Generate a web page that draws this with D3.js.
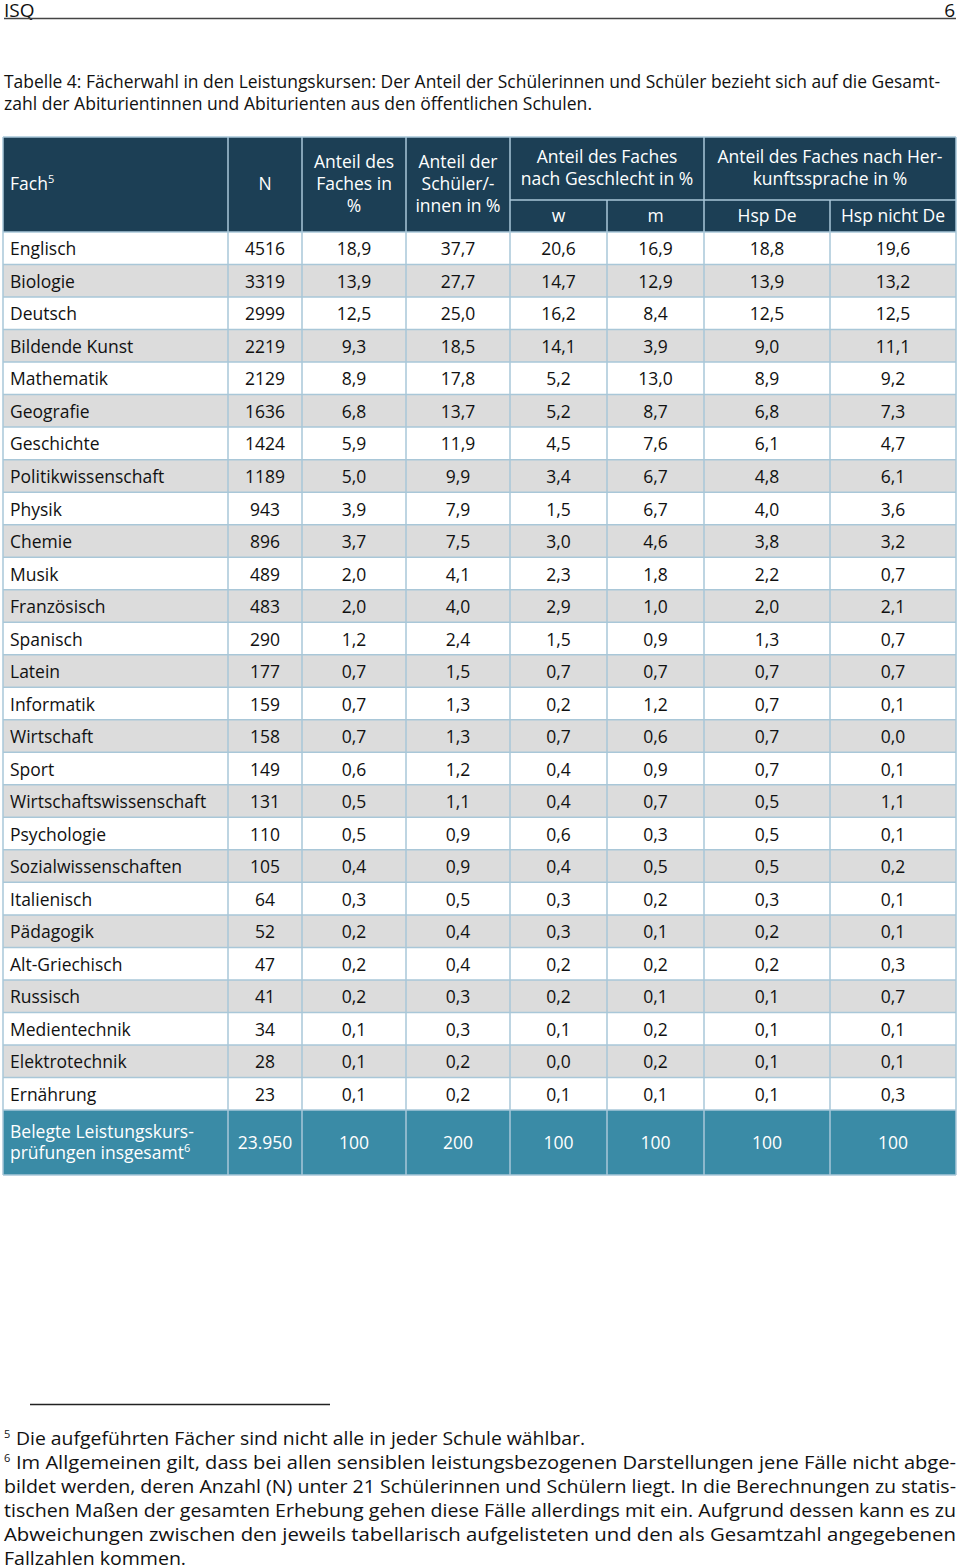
<!DOCTYPE html>
<html><head><meta charset="utf-8">
<script src="https://cdn.jsdelivr.net/npm/d3@7"></script>
<style>html,body{margin:0;padding:0;background:#fff;} svg{display:block;}</style>
</head><body>
<script>
const subjects = ["Englisch","Biologie","Deutsch","Bildende Kunst","Mathematik","Geografie","Geschichte","Politikwissenschaft","Physik","Chemie","Musik","Französisch","Spanisch","Latein","Informatik","Wirtschaft","Sport","Wirtschaftswissenschaft","Psychologie","Sozialwissenschaften","Italienisch","Pädagogik","Alt-Griechisch","Russisch","Medientechnik","Elektrotechnik","Ernährung"];
const nValues = [4516,3319,2999,2219,2129,1636,1424,1189,943,896,489,483,290,177,159,158,149,131,110,105,64,52,47,41,34,28,23];
const anteilFach = ["18,9","13,9","12,5","9,3","8,9","6,8","5,9","5,0","3,9","3,7","2,0","2,0","1,2","0,7","0,7","0,7","0,6","0,5","0,5","0,4","0,3","0,2","0,2","0,2","0,1","0,1","0,1"];
const anteilSchueler = ["37,7","27,7","25,0","18,5","17,8","13,7","11,9","9,9","7,9","7,5","4,1","4,0","2,4","1,5","1,3","1,3","1,2","1,1","0,9","0,9","0,5","0,4","0,4","0,3","0,3","0,2","0,2"];
const weiblich = ["20,6","14,7","16,2","14,1","5,2","5,2","4,5","3,4","1,5","3,0","2,3","2,9","1,5","0,7","0,2","0,7","0,4","0,4","0,6","0,4","0,3","0,3","0,2","0,2","0,1","0,0","0,1"];
const maennlich = ["16,9","12,9","8,4","3,9","13,0","8,7","7,6","6,7","6,7","4,6","1,8","1,0","0,9","0,7","1,2","0,6","0,9","0,7","0,3","0,5","0,2","0,1","0,2","0,1","0,2","0,2","0,1"];
const hspDe = ["18,8","13,9","12,5","9,0","8,9","6,8","6,1","4,8","4,0","3,8","2,2","2,0","1,3","0,7","0,7","0,7","0,7","0,5","0,5","0,5","0,3","0,2","0,2","0,1","0,1","0,1","0,1"];
const hspNichtDe = ["19,6","13,2","12,5","11,1","9,2","7,3","4,7","6,1","3,6","3,2","0,7","2,1","0,7","0,7","0,1","0,0","0,1","1,1","0,1","0,2","0,1","0,1","0,3","0,7","0,1","0,1","0,3"];
const totalLabel = ["Belegte Leistungskurs-","prüfungen insgesamt"];
const totalValues = ["23.950","100","200","100","100","100","100"];

const W = 960, H = 1567;
const FONT = "'Open Sans', 'DejaVu Sans', sans-serif";
const NAVY = "#1c3f55", TEAL = "#3a8ba6", GRID = "#a9c7d8", STRIPE = "#dcdcdc";

const svg = d3.select("body").append("svg").attr("width", W).attr("height", H)
  .style("font-family", FONT);

// page header
svg.append("text").attr("x", 4).attr("y", 17).attr("font-size", 19).attr("fill", "#111").text("ISQ");
svg.append("text").attr("x", 955).attr("y", 17).attr("font-size", 19).attr("fill", "#111").attr("text-anchor", "end").text("6");
svg.append("line").attr("x1", 4).attr("x2", 956).attr("y1", 18.5).attr("y2", 18.5).attr("stroke", "#444").attr("stroke-width", 1.3);

// caption
const cap = svg.append("g").attr("font-size", 17.5).attr("fill", "#111");
cap.append("text").attr("x", 4).attr("y", 88).attr("textLength", 936).attr("lengthAdjust", "spacingAndGlyphs")
  .text("Tabelle 4: Fächerwahl in den Leistungskursen: Der Anteil der Schülerinnen und Schüler bezieht sich auf die Gesamt-");
cap.append("text").attr("x", 4).attr("y", 110).attr("textLength", 588).attr("lengthAdjust", "spacingAndGlyphs")
  .text("zahl der Abiturientinnen und Abiturienten aus den öffentlichen Schulen.");

// table geometry
const colEdges = [3, 228, 302, 406, 510, 607, 704, 830, 956];
const tableTop = 137, headTop2 = 200, bodyTop = 232, bodyBottom = 1110, totalBottom = 1175;
const y = d3.scaleBand().domain(subjects).range([bodyTop, bodyBottom]);
const colCenter = i => (colEdges[i] + colEdges[i + 1]) / 2;

// header background
svg.append("rect").attr("x", colEdges[0]).attr("y", tableTop).attr("width", colEdges[8] - colEdges[0])
  .attr("height", bodyTop - tableTop).attr("fill", NAVY);

// body rows
const rows = subjects.map((s, i) => ({
  s, vals: [String(nValues[i]), anteilFach[i], anteilSchueler[i], weiblich[i], maennlich[i], hspDe[i], hspNichtDe[i]], i
}));
const rowG = svg.append("g").selectAll("g").data(rows).join("g")
  .attr("transform", d => `translate(0,${y(d.s)})`);
rowG.append("rect").attr("x", colEdges[0]).attr("width", colEdges[8] - colEdges[0]).attr("height", y.bandwidth())
  .attr("fill", d => d.i % 2 ? STRIPE : "#fff");
rowG.append("text").attr("x", 10).attr("y", y.bandwidth() / 2 + 1).attr("dy", "0.35em")
  .attr("font-size", 17.5).attr("fill", "#111").text(d => d.s);
rowG.selectAll("text.v").data(d => d.vals).join("text").attr("class", "v")
  .attr("x", (v, j) => colCenter(j + 1)).attr("y", y.bandwidth() / 2 + 1).attr("dy", "0.35em")
  .attr("text-anchor", "middle").attr("font-size", 17.5).attr("fill", "#111").text(v => v);

// total row
svg.append("rect").attr("x", colEdges[0]).attr("y", bodyBottom).attr("width", colEdges[8] - colEdges[0])
  .attr("height", totalBottom - bodyBottom).attr("fill", TEAL);
const tl = svg.append("text").attr("x", 10).attr("font-size", 17.5).attr("fill", "#fff");
tl.append("tspan").attr("x", 10).attr("y", 1138).text(totalLabel[0]);
tl.append("tspan").attr("x", 10).attr("y", 1159).text(totalLabel[1]);
tl.append("tspan").attr("font-size", 11).attr("dy", -7).text("6");
svg.append("g").selectAll("text").data(totalValues).join("text")
  .attr("x", (v, j) => colCenter(j + 1)).attr("y", (bodyBottom + totalBottom) / 2).attr("dy", "0.35em")
  .attr("text-anchor", "middle").attr("font-size", 17.5).attr("fill", "#fff").text(v => v);

// grid lines
const grid = svg.append("g").attr("stroke", GRID).attr("stroke-width", 1.5);
[...subjects.map(s => y(s)), bodyBottom, totalBottom].forEach(yy => {
  grid.append("line").attr("x1", colEdges[0]).attr("x2", colEdges[8]).attr("y1", yy).attr("y2", yy);
});
grid.append("line").attr("x1", colEdges[0]).attr("x2", colEdges[8]).attr("y1", tableTop).attr("y2", tableTop);
grid.append("line").attr("x1", colEdges[4]).attr("x2", colEdges[8]).attr("y1", headTop2).attr("y2", headTop2);
colEdges.forEach((x, i) => {
  grid.append("line").attr("x1", x).attr("x2", x).attr("y1", (i === 5 || i === 7) ? headTop2 : tableTop).attr("y2", totalBottom);
});

// header text
const hd = svg.append("g").attr("font-size", 17.5).attr("fill", "#fff").attr("text-anchor", "middle");
const fach = hd.append("text").attr("x", 10).attr("y", 190).attr("text-anchor", "start");
fach.append("tspan").text("Fach");
fach.append("tspan").attr("font-size", 11).attr("dy", -7).text("5");
hd.append("text").attr("x", colCenter(1)).attr("y", 190).text("N");
const multi = (x, lines, y0, lh) => {
  const t = hd.append("text");
  lines.forEach((l, k) => t.append("tspan").attr("x", x).attr("y", y0 + k * lh).text(l));
};
multi(colCenter(2), ["Anteil des", "Faches in", "%"], 168, 22);
multi(colCenter(3), ["Anteil der", "Schüler/-", "innen in %"], 168, 22);
multi((colEdges[4] + colEdges[6]) / 2, ["Anteil des Faches", "nach Geschlecht in %"], 163, 22);
multi((colEdges[6] + colEdges[8]) / 2, ["Anteil des Faches nach Her-", "kunftssprache in %"], 163, 22);
["w", "m", "Hsp De", "Hsp nicht De"].forEach((l, k) => {
  hd.append("text").attr("x", colCenter(4 + k)).attr("y", 216).attr("dy", "0.35em").text(l);
});

// footnotes
svg.append("line").attr("x1", 30).attr("x2", 330).attr("y1", 1404.5).attr("y2", 1404.5).attr("stroke", "#222").attr("stroke-width", 1.3);
const fnLines = [
  {sup: "5", text: "Die aufgeführten Fächer sind nicht alle in jeder Schule wählbar.", w: 585},
  {sup: "6", text: "Im Allgemeinen gilt, dass bei allen sensiblen leistungsbezogenen Darstellungen jene Fälle nicht abge-", w: 956},
  {text: "bildet werden, deren Anzahl (N) unter 21 Schülerinnen und Schülern liegt. In die Berechnungen zu statis-", w: 956},
  {text: "tischen Maßen der gesamten Erhebung gehen diese Fälle allerdings mit ein. Aufgrund dessen kann es zu", w: 956},
  {text: "Abweichungen zwischen den jeweils tabellarisch aufgelisteten und den als Gesamtzahl angegebenen", w: 956},
  {text: "Fallzahlen kommen.", w: 186}
];
const fn = svg.append("g").attr("font-size", 19).attr("fill", "#111");
fnLines.forEach((l, k) => {
  const yy = 1445 + k * 24;
  if (l.sup) {
    fn.append("text").attr("x", 4).attr("y", yy - 7).attr("font-size", 11).text(l.sup);
    fn.append("text").attr("x", 16).attr("y", yy).attr("textLength", l.w - 16).attr("lengthAdjust", "spacingAndGlyphs").text(l.text);
  } else {
    fn.append("text").attr("x", 4).attr("y", yy).attr("textLength", l.w - 4).attr("lengthAdjust", "spacingAndGlyphs").text(l.text);
  }
});
</script>
</body></html>
